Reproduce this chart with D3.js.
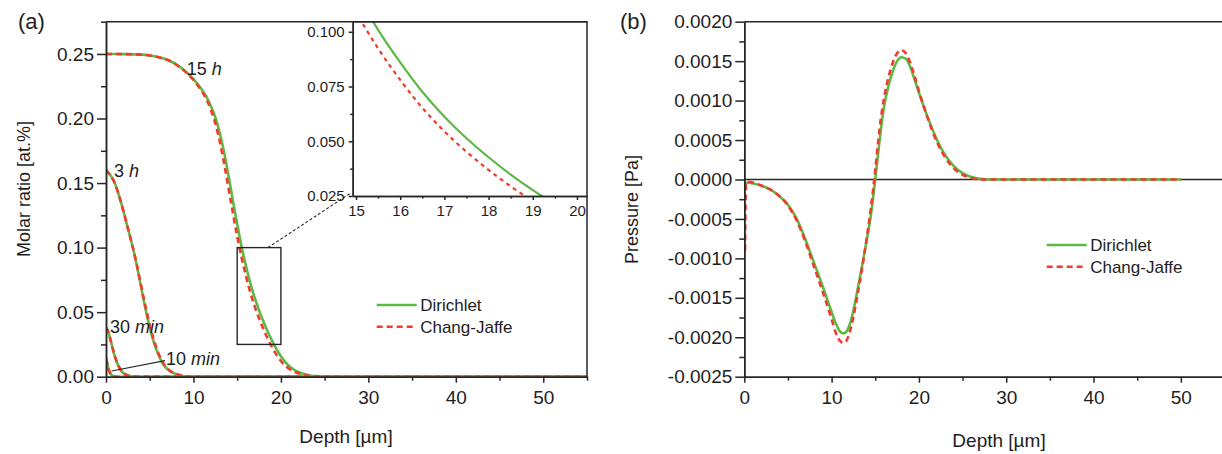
<!DOCTYPE html>
<html><head><meta charset="utf-8">
<script src="https://cdn.jsdelivr.net/npm/d3@7"></script>
<style>
body{margin:0;background:#fff}
svg{display:block}
text{font-family:"Liberation Sans",Arial,Helvetica,sans-serif;fill:#1e1e1e}
</style>
</head><body><svg id="c" width="1222" height="454"></svg>
<script>
// ---------------- DATA ----------------
// Panel (a): molar ratio vs depth
const depth15h = [0,2,4,5,6,7,8,8.5,9,9.5,10,10.5,11,11.5,12,12.5,13,13.5,14,14.5,15,15.5,16,16.5,17,17.5,18,18.5,19,19.5,20,20.5,21,21.5,22,22.5,23,23.5,24,24.5,25,26,27,55];
const dirichlet15h = [0.25,0.2499,0.2495,0.2488,0.2475,0.2455,0.242,0.2397,0.237,0.234,0.2305,0.2265,0.222,0.2165,0.2095,0.201,0.189,0.174,0.156,0.1368,0.1183,0.1009,0.086,0.0726,0.0612,0.0514,0.0427,0.0348,0.0277,0.0213,0.0158,0.0113,0.0079,0.0054,0.0036,0.0023,0.0014,0.0008,0.00045,0.00024,0.00012,0.00003,0,0];
const changJaffe15h = [0.25,0.2499,0.2495,0.2488,0.2475,0.2455,0.242,0.2396,0.2367,0.2335,0.2299,0.2256,0.2207,0.2146,0.2066,0.1963,0.1824,0.1655,0.1464,0.1272,0.1089,0.0924,0.078,0.0653,0.0545,0.0452,0.0369,0.0294,0.0227,0.0169,0.0122,0.0086,0.0059,0.004,0.0026,0.0016,0.0009,0.0005,0.00029,0.00014,0.00007,0.00001,0,0];

const depth3h = [0,0.5,1,1.5,2,2.5,3,3.5,4,4.5,5,5.5,6,6.5,7,7.5,8,8.5,9,10,55];
const dirichlet3h = [0.16,0.156,0.15,0.14,0.128,0.115,0.102,0.087,0.07,0.053,0.038,0.026,0.017,0.01,0.006,0.0035,0.0022,0.001,0.0004,0,0];
const changJaffe3h = [0.16,0.156,0.15,0.14,0.128,0.115,0.102,0.0875,0.071,0.055,0.04,0.028,0.018,0.011,0.0065,0.0037,0.0023,0.0011,0.0004,0,0];

const depth30m = [0,0.25,0.5,0.75,1,1.25,1.5,1.75,2,2.5,3,4,55];
const dirichlet30m = [0.038,0.035,0.029,0.022,0.016,0.011,0.0072,0.0045,0.0027,0.0009,0.0002,0,0];
const changJaffe30m = [0.038,0.035,0.029,0.0222,0.0162,0.0112,0.0074,0.0046,0.0028,0.0009,0.0002,0,0];

const depth10m = [0,0.1,0.2,0.3,0.4,0.6,0.8,1,1.5,55];
const dirichlet10m = [0.014,0.0115,0.0085,0.0058,0.0038,0.0016,0.0006,0.0002,0,0];
const changJaffe10m = [0.014,0.0115,0.0086,0.0059,0.0039,0.0017,0.0006,0.0002,0,0];

// Panel (b): pressure vs depth
const depthP = [0.08,0.2,0.5,1,2,3,4,5,6,7,8,9,10,10.5,10.8,11,11.3,11.6,12,12.5,13,13.5,14,14.5,15,15.5,16,16.5,17,17.5,18,18.5,19,19.5,20,21,22,23,24,25,26,27,28,50];
const dirichletP = [-0.00007,-0.00005,-0.00004,-0.00005,-0.00008,-0.00013,-0.00021,-0.00032,-0.0005,-0.00076,-0.00106,-0.00136,-0.00168,-0.00183,-0.0019,-0.00193,-0.00195,-0.00194,-0.00186,-0.00166,-0.00138,-0.00109,-0.00078,-0.00045,0,0.0005,0.00092,0.00118,0.00137,0.0015,0.00155,0.00153,0.00143,0.00127,0.0011,0.00079,0.00052,0.00031,0.00017,0.00008,0.00003,0.00001,0,0];
const changJaffeP = [-0.0009,-0.00004,-0.00003,-0.00004,-0.00008,-0.00013,-0.00021,-0.00033,-0.00052,-0.00079,-0.00111,-0.00143,-0.00177,-0.00195,-0.00202,-0.00205,-0.00207,-0.00206,-0.00196,-0.00174,-0.00144,-0.00112,-0.00076,-0.00036,0.00012,0.00065,0.00103,0.00129,0.00148,0.0016,0.00164,0.0016,0.00148,0.00131,0.00112,0.00078,0.00049,0.00028,0.00014,0.00006,0.00002,0,0,0];

// ticks
const xTicks = [0,10,20,30,40,50];
const xMinorTicks = [5,15,25,35,45,55];
const yTicksA = [0,0.05,0.1,0.15,0.2,0.25];
const yMinorA = [0.025,0.075,0.125,0.175,0.225,0.275];
const insetXTicks = [15,16,17,18,19,20];
const insetXMinor = [15.5,16.5,17.5,18.5,19.5];
const insetYTicks = [0.025,0.05,0.075,0.1];
const insetYMinor = [0.0375,0.0625,0.0875];
const yTicksB = [-0.0025,-0.002,-0.0015,-0.001,-0.0005,0,0.0005,0.001,0.0015,0.002];
const yMinorB = [-0.00225,-0.00175,-0.00125,-0.00075,-0.00025,0.00025,0.00075,0.00125,0.00175];

const seriesNames = ["Dirichlet","Chang-Jaffe"];
const GREEN = "#5cb946", RED = "#f23b2b", AX = "#262626";
const DASH = "6,4";

// ---------------- DRAW ----------------
const svg = d3.select("#c");
svg.append("rect").attr("width",1222).attr("height",454).attr("fill","#fff");
const defs = svg.append("defs");

function pts(xs, ys){ return xs.map((d,i)=>[d, ys[i]]); }

function drawAxes(g, x, y, opt){
  const ax = g.append("g").attr("transform",`translate(0,${y.range()[0]})`)
    .call(d3.axisBottom(x).tickValues(opt.xt).tickSize(opt.xts).tickPadding(opt.xtp).tickSizeOuter(0).tickFormat(opt.xf));
  const axm = g.append("g").attr("transform",`translate(0,${y.range()[0]})`)
    .call(d3.axisBottom(x).tickValues(opt.xm).tickSize(opt.xms).tickSizeOuter(0).tickFormat(""));
  const ay = g.append("g").attr("transform",`translate(${x.range()[0]},0)`)
    .call(d3.axisLeft(y).tickValues(opt.yt).tickSize(opt.yts).tickPadding(opt.ytp).tickSizeOuter(0).tickFormat(opt.yf));
  const aym = g.append("g").attr("transform",`translate(${x.range()[0]},0)`)
    .call(d3.axisLeft(y).tickValues(opt.ym).tickSize(opt.yms).tickSizeOuter(0).tickFormat(""));
  [ax,axm,ay,aym].forEach(a=>{
    a.selectAll("path,line").attr("stroke",AX).attr("stroke-width",1.5);
    a.selectAll("text").attr("font-size",opt.fs).attr("fill","#1e1e1e").style("font-family",'"Liberation Sans",Arial,sans-serif');
  });
}

function curve(g, x, y, xs, ys, color, dashed, w, dash){
  const line = d3.line().x(d=>x(d[0])).y(d=>y(d[1])).curve(d3.curveMonotoneX);
  g.append("path").datum(pts(xs,ys)).attr("d",line).attr("fill","none")
    .attr("stroke",color).attr("stroke-width",w||2.6)
    .attr("stroke-dasharray",dashed?(dash||DASH):null);
}

// ===== Panel (a) =====
const xA = d3.scaleLinear().domain([0,55]).range([106,587]);
const yA = d3.scaleLinear().domain([0,0.275]).range([376.7,21.7]);
const gA = svg.append("g");
defs.append("clipPath").attr("id","clipA").append("rect")
  .attr("x",106).attr("y",21.7).attr("width",481).attr("height",355);
const cA = gA.append("g").attr("clip-path","url(#clipA)");
[[depth10m,dirichlet10m,changJaffe10m],[depth30m,dirichlet30m,changJaffe30m],[depth3h,dirichlet3h,changJaffe3h],[depth15h,dirichlet15h,changJaffe15h]]
  .forEach(([xs,d,c])=>{ curve(cA,xA,yA,xs,d,GREEN,false); curve(cA,xA,yA,xs,c,RED,true); });

// zoom rectangle
gA.append("rect").attr("x",xA(15)).attr("y",yA(0.1)).attr("width",xA(20)-xA(15)).attr("height",yA(0.025)-yA(0.1))
  .attr("fill","none").attr("stroke",AX).attr("stroke-width",1.4);

// inset
const xI = d3.scaleLinear().domain([14.925,20.22]).range([352.7,586.7]);
const yI = d3.scaleLinear().domain([0.025,0.1046]).range([196,21.7]);
gA.append("line").attr("x1",xA(18.5)).attr("y1",yA(0.1)).attr("x2",xI(14.87)).attr("y2",yI(0.0262))
  .attr("stroke",AX).attr("stroke-width",1.1).attr("stroke-dasharray","3,2");
gA.append("rect").attr("x",352.7).attr("y",21.7).attr("width",234).attr("height",174.3).attr("fill","#fff");
defs.append("clipPath").attr("id","clipI").append("rect").attr("x",352.7).attr("y",21.7).attr("width",234).attr("height",174.3);
const cI = gA.append("g").attr("clip-path","url(#clipI)");
curve(cI,xI,yI,depth15h,dirichlet15h,GREEN,false,2.2);
curve(cI,xI,yI,depth15h,changJaffe15h,RED,true,2.2,"4,4");
drawAxes(gA,xI,yI,{xt:insetXTicks,xm:insetXMinor,yt:insetYTicks,ym:insetYMinor,xts:4,xtp:5,xms:2.5,yts:4,ytp:4,yms:2.5,
  xf:d3.format("d"),yf:d3.format(".3f"),fs:15});
gA.append("line").attr("x1",352.7).attr("x2",586.7).attr("y1",21.7).attr("y2",21.7).attr("stroke",AX).attr("stroke-width",1.5);

// main axes
drawAxes(gA,xA,yA,{xt:xTicks,xm:xMinorTicks,yt:yTicksA,ym:yMinorA,xts:6,xtp:8,xms:4,yts:9,ytp:3,yms:5,
  xf:d3.format("d"),yf:d3.format(".2f"),fs:19});
gA.append("path").attr("d",`M${xA(0)},${yA(0.275)}H${xA(55)}V${yA(0)}`).attr("fill","none").attr("stroke",AX).attr("stroke-width",1.5);

// curve labels
function lbl(g,x,y,num,unit){
  const t=g.append("text").attr("x",x).attr("y",y).attr("font-size",18);
  t.append("tspan").text(num+" ");
  t.append("tspan").attr("font-style","italic").text(unit);
}
lbl(gA,186.7,75,"15","h");
lbl(gA,114,176.5,"3","h");
lbl(gA,110,332.5,"30","min");
lbl(gA,166,364.8,"10","min");
gA.append("line").attr("x1",xA(0.65)).attr("y1",yA(0.0044)).attr("x2",xA(6.75)).attr("y2",yA(0.0124))
  .attr("stroke",AX).attr("stroke-width",1.2);

// legend
function legend(g,x0,y0,dy){
  seriesNames.forEach((n,i)=>{
    g.append("line").attr("x1",x0).attr("x2",x0+40).attr("y1",y0+i*dy).attr("y2",y0+i*dy)
      .attr("stroke",i?RED:GREEN).attr("stroke-width",2.6).attr("stroke-dasharray",i?DASH:null);
    g.append("text").attr("x",x0+43.5).attr("y",y0+i*dy+6.3).attr("font-size",17).text(n);
  });
}
legend(gA,376.7,305,21.7);

svg.append("text").attr("x",18).attr("y",29).attr("font-size",22).text("(a)");
svg.append("text").attr("transform","translate(30,189) rotate(-90)").attr("text-anchor","middle").attr("font-size",18).text("Molar ratio [at.%]");
svg.append("text").attr("x",346).attr("y",442.5).attr("text-anchor","middle").attr("font-size",19).text("Depth [\u00b5m]");

// ===== Panel (b) =====
const xB = d3.scaleLinear().domain([0,55]).range([744.3,1224.5]);
const yB = d3.scaleLinear().domain([-0.0025,0.002]).range([376.7,21.7]);
const gB = svg.append("g");
defs.append("clipPath").attr("id","clipB").append("rect").attr("x",744.3).attr("y",21.7).attr("width",480).attr("height",355);
gB.append("line").attr("x1",xB(0)).attr("x2",xB(55)).attr("y1",yB(0)).attr("y2",yB(0)).attr("stroke",AX).attr("stroke-width",1.5);
const cB = gB.append("g").attr("clip-path","url(#clipB)");
curve(cB,xB,yB,depthP,dirichletP,GREEN,false);
curve(cB,xB,yB,depthP,changJaffeP,RED,true);
const fmtB = d => (d<0?"-":"")+Math.abs(d).toFixed(4);
drawAxes(gB,xB,yB,{xt:xTicks,xm:xMinorTicks,yt:yTicksB,ym:yMinorB,xts:6,xtp:8,xms:4,yts:9,ytp:3,yms:5,
  xf:d3.format("d"),yf:fmtB,fs:19});
gB.append("path").attr("d",`M${xB(0)},${yB(0.002)}H${xB(55)}V${yB(-0.0025)}`).attr("fill","none").attr("stroke",AX).attr("stroke-width",1.5);
legend(gB,1046.7,245,21.7);
svg.append("text").attr("x",620).attr("y",29).attr("font-size",22).text("(b)");
svg.append("text").attr("transform","translate(638,209.5) rotate(-90)").attr("text-anchor","middle").attr("font-size",18).text("Pressure [Pa]");
svg.append("text").attr("x",999).attr("y",446.7).attr("text-anchor","middle").attr("font-size",19).text("Depth [\u00b5m]");
</script>
</body></html>
